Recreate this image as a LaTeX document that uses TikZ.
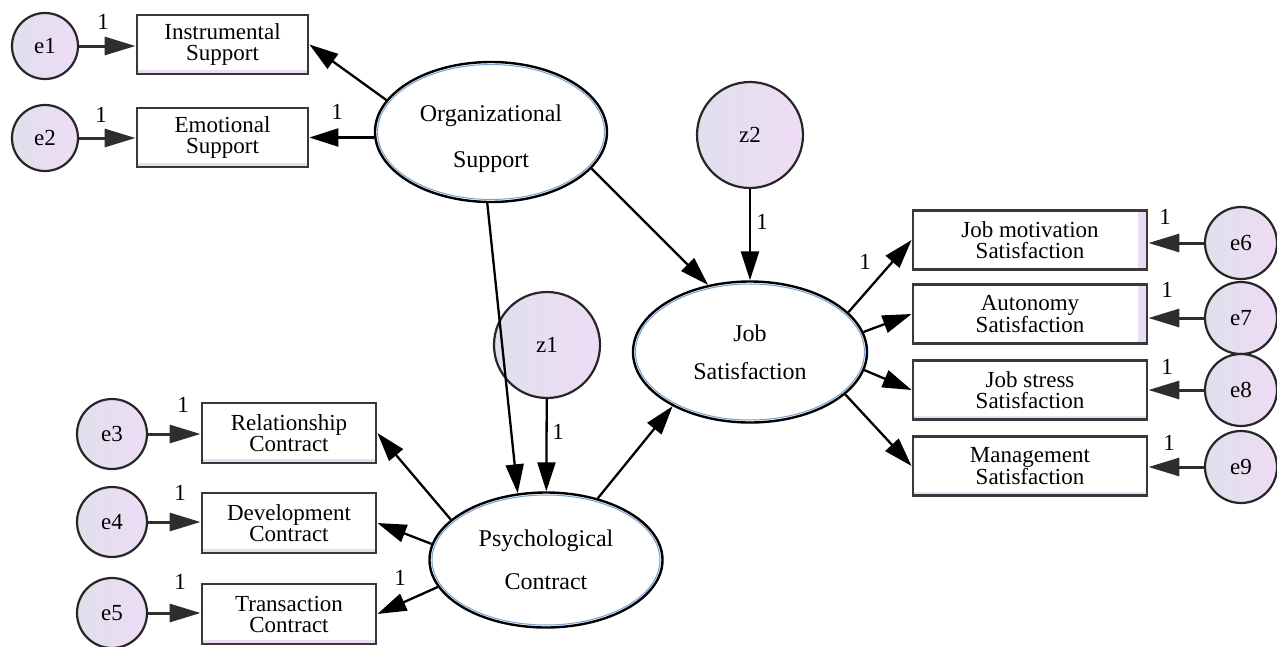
\documentclass[tikz,border=0pt]{standalone}
\usepackage{fontspec}
\setmainfont{Liberation Serif}
\usetikzlibrary{arrows.meta,shapes.geometric}
\definecolor{circA}{RGB}{224,224,236}
\definecolor{circB}{RGB}{238,220,245}
\definecolor{ellblue}{RGB}{120,160,205}
\definecolor{boxlav}{RGB}{234,220,243}
\begin{document}
\begin{tikzpicture}[x=1pt,y=-1pt,
  errc/.style={circle, draw=black!85, line width=2.2pt, minimum size=#1, inner sep=0pt,
    left color=circA, right color=circB, font=\fontsize{23}{24}\selectfont},
  obsbox/.style 2 args={rectangle, draw=black!78, line width=2.8pt, fill=white,
    minimum width=#1, minimum height=#2, inner sep=0pt, align=center,
    font=\fontsize{23}{21}\selectfont},
  rstrip/.style={path picture={\fill[boxlav] ([xshift=-9pt]path picture bounding box.north east) rectangle (path picture bounding box.south east);}},
  bstrip/.style={path picture={\fill[boxlav] ([yshift=4pt]path picture bounding box.south west) rectangle (path picture bounding box.south east);}},
  latent/.style n args={3}{ellipse, draw=black, line width=2.4pt, fill=white,
    minimum width=#1, minimum height=#2, inner sep=0pt, align=center,
    font=\fontsize{24}{#3}\selectfont,
    path picture={\draw[ellblue, line width=1pt] (path picture bounding box.center) ellipse [x radius={(#1)/2-2.5pt}, y radius={(#2)/2-2.5pt}];}},
  earr/.style={draw=black!82, line width=3pt, -{Triangle[length=31pt,width=18pt]}},
  parr/.style={draw=black, line width=2.3pt, -{Triangle[length=29pt,width=18pt]}},
  lab/.style={font=\fontsize{23}{24}\selectfont, inner sep=0pt}
]
\useasboundingbox (0,0) rectangle (1277,646);

% left-top measurement nodes
\node[errc=66pt] (e1) at (45,46) {e1};
\node[errc=66pt] (e2) at (45,138) {e2};
\node[obsbox={171pt}{59pt}, bstrip] (is) at (222.5,44.5) {Instrumental\\Support};
\node[obsbox={171pt}{59pt}, bstrip] (es) at (222.5,137.5) {Emotional\\Support};

% left-bottom measurement nodes
\node[errc=70pt] (e3) at (112,434) {e3};
\node[errc=70pt] (e4) at (112,522) {e4};
\node[errc=70pt] (e5) at (112,613) {e5};
\node[obsbox={174pt}{60pt}, bstrip] (rc) at (289,433) {Relationship\\Contract};
\node[obsbox={174pt}{60pt}, bstrip] (dc) at (289,523) {Development\\Contract};
\node[obsbox={174pt}{60pt}, bstrip] (tc) at (289,614) {Transaction\\Contract};

% right measurement nodes
\node[obsbox={234pt}{59pt}, rstrip] (jm) at (1030,240) {Job motivation\\Satisfaction};
\node[obsbox={234pt}{59pt}, rstrip] (am) at (1030,314) {Autonomy\\Satisfaction};
\node[obsbox={234pt}{59pt}, bstrip] (jst) at (1030,390) {Job stress\\Satisfaction};
\node[obsbox={234pt}{59pt}, bstrip] (mg) at (1030,466) {Management\\Satisfaction};
\node[errc=72pt] (e6) at (1241,243) {e6};
\node[errc=72pt] (e7) at (1241,318) {e7};
\node[errc=72pt] (e8) at (1241,390) {e8};
\node[errc=72pt] (e9) at (1241,467) {e9};

% latent variables
\node[latent={232pt}{140pt}{46pt}, text height=77pt] (os) at (491,132) {Organizational\\Support};
\node[latent={234pt}{141pt}{38pt}] (js) at (750,352) {Job\\Satisfaction};
\node[latent={233pt}{135pt}{43pt}] (ps) at (546,560) {Psychological\\Contract};
\node[errc=106pt] (z1) at (547,345) {z1};
\node[errc=106pt] (z2) at (750,135) {z2};

% error arrows
\draw[earr] (e1) -- (e1 -| is.west);
\draw[earr] (e2) -- (e2 -| es.west);
\draw[earr] (e3) -- (e3 -| rc.west);
\draw[earr] (e4) -- (e4 -| dc.west);
\draw[earr] (e5) -- (e5 -| tc.west);
\draw[earr] (e6) -- (e6 -| jm.east);
\draw[earr] (e7) -- (e7 -| am.east);
\draw[earr] (e8) -- (e8 -| jst.east);
\draw[earr] (e9) -- (e9 -| mg.east);

% structural / loading arrows
\draw[parr] (os.163) -- (is.east);
\draw[parr] (os.west |- es.east) -- (es.east);
\draw[parr] (os.267) -- (ps.113);
\draw[parr] (z1) -- (ps);
\draw[parr] (os.340) -- (js.122);
\draw[parr] (z2) -- (js);
\draw[parr] (ps.50) -- (js.215);
\draw[parr] (ps.157) -- (rc.east);
\draw[parr] (ps.172) -- (dc.east);
\draw[parr] (ps.194) -- (tc.east);
\draw[parr] (js.22) -- (jm.west);
\draw[parr] (js.10) -- (am.west);
\draw[parr] (js.351) -- (jst.west);
\draw[parr] (js.336) -- (mg.west);

% labels "1"
\node[lab] (l1) at (103,22) {1};
\node[lab] (l2) at (101,115) {1};
\node[lab] (l3) at (337,112) {1};
\node[lab] (l4) at (183,405) {1};
\node[lab] (l5) at (180,493) {1};
\node[lab] (l6) at (180,582) {1};
\node[lab] (l7) at (400,578) {1};
\node[lab] (l8) at (558,432) {1};
\node[lab] (l9) at (762,222) {1};
\node[lab] (l10) at (865,262) {1};
\node[lab] (l11) at (1165,217) {1};
\node[lab] (l12) at (1167,290) {1};
\node[lab] (l13) at (1167,367) {1};
\node[lab] (l14) at (1169,443) {1};
\end{tikzpicture}
\end{document}
